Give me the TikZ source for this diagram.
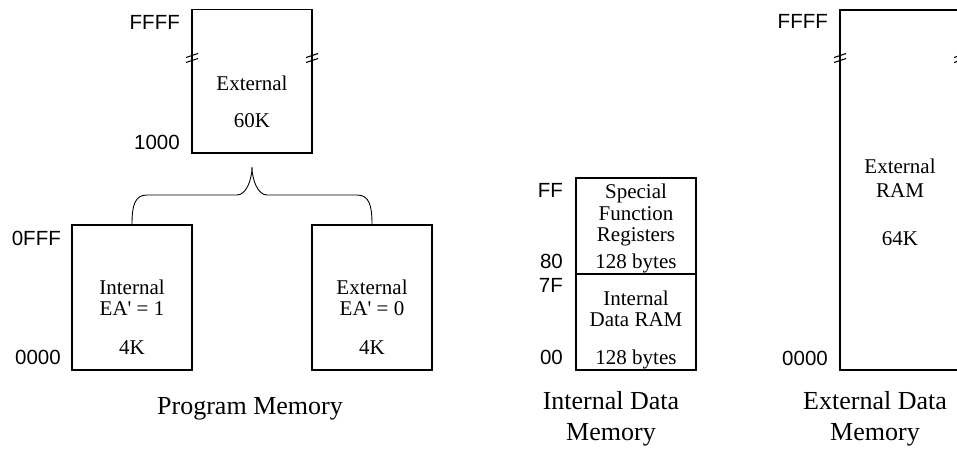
\documentclass[tikz,border=0pt]{standalone}
\usepackage{fontspec}
\newfontfamily\tnr{Liberation Serif}
\newfontfamily\hlv{Liberation Sans}
\begin{document}
\begin{tikzpicture}[x=1pt,y=-1pt,
  box/.style={draw, line width=1.7pt, inner sep=0pt, minimum width=120pt},
  btxt/.style={font=\tnr\fontsize{21}{24}\selectfont, anchor=base, inner sep=0pt},
  captxt/.style={font=\tnr\fontsize{26}{30}\selectfont, anchor=base, inner sep=0pt},
  addr/.style={font=\hlv\fontsize{20.5}{24}\selectfont, anchor=base east, inner sep=0pt},
  brk/.style={line width=1.1pt},
  brace/.style={line width=0.9pt}]
\useasboundingbox (0,0) rectangle (957,450);
\clip (0,0) rectangle (957,450);

% ---------- Program memory ----------
\node[box, minimum height=143.5pt] (ext60) at (252,81.25) {};
\node[box, minimum height=145pt] (intA) at (132,297.5) {};
\node[box, minimum height=145pt] (extA) at (372,297.5) {};

\node[btxt] (t1) at (252,90) {External};
\node[btxt] (t2) at (252,127) {60K};
\node[btxt] (t3) at (132,294) {Internal};
\node[btxt] (t4) at (132,315) {EA' = 1};
\node[btxt] (t5) at (132,354) {4K};
\node[btxt] (t6) at (372,294) {External};
\node[btxt] (t7) at (372,315) {EA' = 0};
\node[btxt] (t8) at (372,354) {4K};

\node[addr] (a1) at (180,29) {FFFF};
\node[addr] (a2) at (180,149) {1000};
\node[addr] (a3) at (61,245) {0FFF};
\node[addr] (a4) at (61,364) {0000};

\node[captxt] (c1) at (250,414) {Program Memory};

% break marks
\draw[brk] (192,58) ++(-6,-0.5) -- ++(12,-4) (192,58) ++(-6,4.5) -- ++(12,-4);
\draw[brk] (312,58) ++(-6,-0.5) -- ++(12,-4) (312,58) ++(-6,4.5) -- ++(12,-4);

% brace
\coordinate (tip) at (252,167);
\draw[brace] (intA.north) .. controls (132,205) and (135,195) .. (147,195)
  -- (237,195) .. controls (246,195) and (252,180) .. (tip)
  .. controls (252,180) and (258,195) .. (267,195)
  -- (357,195) .. controls (369,195) and (372,205) .. (extA.north);

% ---------- Internal data memory ----------
\node[box, minimum height=96pt] (sfr) at (636,226) {};
\node[box, minimum height=96pt] (iram) at (636,322) {};

\node[btxt] (s1) at (636,198) {Special};
\node[btxt] (s2) at (636,220) {Function};
\node[btxt] (s3) at (636,241) {Registers};
\node[btxt] (s4) at (636,268) {128 bytes};
\node[btxt] (s5) at (636,305) {Internal};
\node[btxt] (s6) at (636,326) {Data RAM};
\node[btxt] (s7) at (636,364) {128 bytes};

\node[addr] (b1) at (563,197) {FF};
\node[addr] (b2) at (563,268) {80};
\node[addr] (b3) at (563,292) {7F};
\node[addr] (b4) at (563,364) {00};

\node[captxt] (c2) at (611,409) {Internal Data};
\node[captxt] (c3) at (611,440) {Memory};

% ---------- External data memory ----------
\node[box, minimum height=360pt] (xram) at (900,190) {};
\node[btxt] (x1) at (900,173) {External};
\node[btxt] (x2) at (900,197) {RAM};
\node[btxt] (x3) at (900,245) {64K};

\node[addr] (d1) at (828,28) {FFFF};
\node[addr] (d2) at (828,365) {0000};

\draw[brk] (840,58) ++(-6,-0.5) -- ++(12,-4) (840,58) ++(-6,4.5) -- ++(12,-4);
\draw[brk] (960,58) ++(-6,-0.5) -- ++(12,-4) (960,58) ++(-6,4.5) -- ++(12,-4);

\node[captxt] (c4) at (875,409) {External Data};
\node[captxt] (c5) at (875,440) {Memory};
\end{tikzpicture}
\end{document}
